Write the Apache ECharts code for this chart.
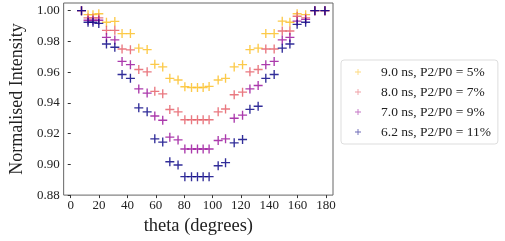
<!DOCTYPE html>
<html>
<head>
<meta charset="UTF-8">
<title>Normalised Intensity vs theta</title>
<script src="https://cdn.jsdelivr.net/npm/echarts@6/dist/echarts.min.js"></script>
<style>
  body { margin: 0; background: #fff; }
  #chart { width: 505px; height: 241px; }
</style>
</head>
<body>
<div id="chart"></div>
<script>
// angles (degrees) shared by all four measurements
var theta = [7.6, 12.2, 15.7, 19.8, 25.2, 31.1, 36.2, 42.1, 48.0, 53.9, 59.3, 64.9, 69.9, 75.7,
             80.5, 85.2, 89.4, 93.4, 97.6,
             104.0, 109.2, 115.3, 121.2, 126.4, 132.2, 137.6, 143.5, 149.2, 154.6, 159.7, 165.7, 172.2, 179.3];

var ns90 = [1.000, 0.9974, 0.9974, 0.998, 0.9925, 0.993, 0.9851, 0.9851, 0.9756, 0.9747, 0.9651, 0.9634, 0.956, 0.9549,
            0.9505, 0.950, 0.950, 0.950, 0.9507,
            0.9549, 0.956, 0.9634, 0.9649, 0.9747, 0.9756, 0.9851, 0.9851, 0.9932, 0.9925, 0.998, 0.9974, 1.000, 1.000];
var ns80 = [1.000, 0.9953, 0.9953, 0.9953, 0.9872, 0.9872, 0.9751, 0.9745, 0.9617, 0.9602, 0.9475, 0.9459, 0.9357, 0.9342,
            0.929, 0.929, 0.929, 0.929, 0.929,
            0.9342, 0.936, 0.9453, 0.947, 0.9602, 0.9617, 0.9751, 0.9751, 0.9868, 0.9868, 0.9964, 0.9953, 1.000, 1.000];
var ns70 = [1.000, 0.9938, 0.9938, 0.9938, 0.9826, 0.981, 0.967, 0.9649, 0.9491, 0.9464, 0.9315, 0.9287, 0.9177, 0.9159,
            0.910, 0.910, 0.910, 0.910, 0.910,
            0.9155, 0.9166, 0.930, 0.932, 0.9491, 0.9513, 0.9649, 0.967, 0.981, 0.9826, 0.9932, 0.9943, 1.000, 1.000];
var ns62 = [1.000, 0.9925, 0.9925, 0.9917, 0.9783, 0.9762, 0.9585, 0.956, 0.9368, 0.9342, 0.9166, 0.9145, 0.9017, 0.8996,
            0.892, 0.892, 0.892, 0.892, 0.892,
            0.8991, 0.9011, 0.914, 0.9162, 0.9358, 0.9378, 0.956, 0.9585, 0.9756, 0.9783, 0.9911, 0.9925, 1.000, 1.000];

var names = ['9.0 ns, P2/P0 = 5%', '8.0 ns, P2/P0 = 7%', '7.0 ns, P2/P0 = 9%', '6.2 ns, P2/P0 = 11%'];
var colors = ['#fbc12a', '#e5606a', '#9c179e', '#0d0887'];
var xTicks = [0, 20, 40, 60, 80, 100, 120, 140, 160, 180];
var yTicks = [0.88, 0.90, 0.92, 0.94, 0.96, 0.98, 1.00];

var plus = 'path://M0,4.25H10V5.75H0Z M4.25,0H5.75V10H4.25Z';
var serif = 'Liberation Serif';

function pairs(vals) {
    return theta.map(function (t, i) { return [t, vals[i]]; });
}

var allVals = [ns90, ns80, ns70, ns62];
var series = allVals.map(function (vals, i) {
    return {
        name: names[i],
        type: 'scatter',
        data: pairs(vals),
        symbol: plus,
        symbolSize: 9,
        itemStyle: { color: colors[i], opacity: 0.85 },
        z: 2 + i
    };
});

var chart = echarts.init(document.getElementById('chart'));
chart.setOption({
    animation: false,
    grid: { left: 63, right: 172, top: 3, bottom: 42, show: true, borderColor: '#666', borderWidth: 1 },
    xAxis: {
        type: 'value', min: -5, max: 185,
        name: 'theta (degrees)', nameLocation: 'middle', nameGap: 19,
        nameTextStyle: { fontFamily: serif, fontSize: 18.5, color: '#222' },
        axisLine: { show: false },
        splitLine: { show: false },
        axisTick: { show: true, length: 3, lineStyle: { color: '#333' }, customValues: xTicks },
        axisLabel: { fontFamily: serif, fontSize: 13, color: '#222', margin: 4, customValues: xTicks }
    },
    yAxis: {
        type: 'value', min: 0.88, max: 1.005,
        name: 'Normalised Intensity', nameLocation: 'middle', nameGap: 32,
        nameTextStyle: { fontFamily: serif, fontSize: 18, color: '#222' },
        axisLine: { show: false },
        splitLine: { show: false },
        axisTick: { show: true, length: 3, lineStyle: { color: '#333' }, customValues: yTicks },
        axisLabel: {
            fontFamily: serif, fontSize: 13, color: '#222', margin: 4, customValues: yTicks,
            formatter: function (v) { return v.toFixed(2); }
        }
    },
    legend: {
        orient: 'vertical', left: 341, top: 60,
        padding: [5, 7, 5, 14],
        itemWidth: 8, itemHeight: 6, itemGap: 6,
        borderColor: '#ddd', borderWidth: 1, borderRadius: 3,
        textStyle: { fontFamily: serif, fontSize: 13.5, color: '#222', lineHeight: 14, padding: [0, 0, 0, 14] },
        data: names.map(function (n, i) {
            return { name: n, icon: plus, itemStyle: { color: colors[i], opacity: 0.6 } };
        })
    },
    series: series
});
</script>
</body>
</html>
